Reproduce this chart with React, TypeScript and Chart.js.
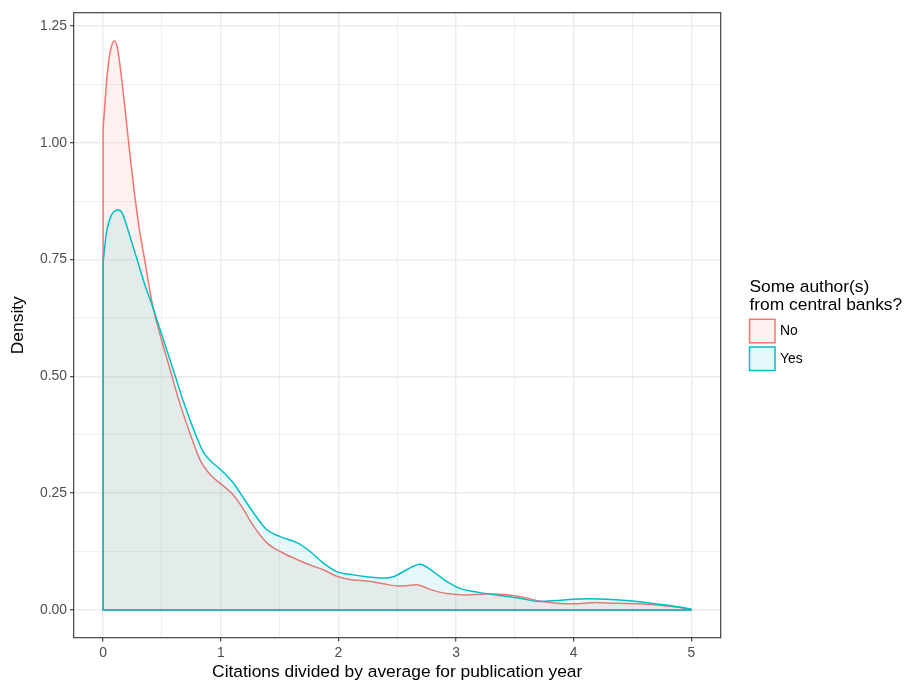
import React, { useEffect, useRef } from "react";
import { Chart, registerables } from "chart.js";

Chart.register(...registerables);

// ---------- data ----------
const SERIES_NAMES = ["No", "Yes"];
const LEGEND_TITLE = ["Some author(s)", "from central banks?"];
const X_TITLE = "Citations divided by average for publication year";
const Y_TITLE = "Density";

const X_TICKS = [0, 0.5, 1, 1.5, 2, 2.5, 3, 3.5, 4, 4.5, 5];
const X_MAJOR = [0, 1, 2, 3, 4, 5];
const X_LABELS = ["0", "1", "2", "3", "4", "5"];
const Y_TICKS = [0, 0.125, 0.25, 0.375, 0.5, 0.625, 0.75, 0.875, 1, 1.125, 1.25];
const Y_MAJOR = [0, 0.25, 0.5, 0.75, 1, 1.25];
const Y_LABELS = ["0.00", "0.25", "0.50", "0.75", "1.00", "1.25"];

const NO_X = [0, 0.028, 0.05, 0.075, 0.096, 0.12, 0.161, 0.217, 0.26, 0.308, 0.353, 0.421, 0.5, 0.586, 0.628, 0.747, 0.826, 0.92, 0.996, 1.095, 1.166, 1.278, 1.39, 1.505, 1.647, 1.76, 1.873, 1.986, 2.127, 2.24, 2.38, 2.52, 2.666, 2.778, 2.92, 3.09, 3.26, 3.4, 3.57, 3.71, 3.85, 3.995, 4.19, 4.36, 4.56, 4.79, 5.0];
const NO_Y = [1.03, 1.125, 1.18, 1.21, 1.218, 1.205, 1.13, 1.0, 0.905, 0.815, 0.75, 0.652, 0.575, 0.5, 0.462, 0.372, 0.32, 0.287, 0.271, 0.249, 0.226, 0.18, 0.144, 0.125, 0.108, 0.096, 0.086, 0.072, 0.064, 0.062, 0.056, 0.051, 0.054, 0.044, 0.035, 0.032, 0.034, 0.033, 0.027, 0.019, 0.0145, 0.013, 0.016, 0.014, 0.013, 0.0086, 0.002];

const YES_X = [0, 0.03, 0.07, 0.1, 0.133, 0.165, 0.2, 0.24, 0.289, 0.35, 0.421, 0.486, 0.614, 0.676, 0.784, 0.854, 0.93, 0.996, 1.109, 1.166, 1.278, 1.39, 1.505, 1.647, 1.76, 1.873, 1.986, 2.127, 2.24, 2.38, 2.467, 2.58, 2.694, 2.806, 2.92, 3.033, 3.203, 3.373, 3.54, 3.71, 3.85, 3.995, 4.137, 4.28, 4.5, 4.73, 4.9, 5.0];
const YES_Y = [0.745, 0.81, 0.845, 0.854, 0.856, 0.848, 0.823, 0.79, 0.75, 0.7, 0.649, 0.599, 0.5, 0.451, 0.377, 0.337, 0.315, 0.301, 0.271, 0.25, 0.208, 0.172, 0.157, 0.144, 0.125, 0.1, 0.082, 0.075, 0.071, 0.068, 0.071, 0.086, 0.098, 0.082, 0.061, 0.046, 0.037, 0.031, 0.025, 0.018, 0.02, 0.023, 0.024, 0.023, 0.019, 0.012, 0.006, 0.0015];

// ---------- styling ----------
const RED = "#F8766D";
const CYAN = "#00BFC4";
const RED_FILL = "rgba(248,118,109,0.1)";
const CYAN_FILL = "rgba(0,191,196,0.1)";
const FONT = "'Liberation Sans', Arial, Helvetica, sans-serif";

const toPts = (xs: number[], ys: number[]) => xs.map((x, i) => ({ x, y: ys[i] }));
const outline = (xs: number[], ys: number[]) => [
  { x: xs[0], y: ys[0] },
  { x: xs[0], y: 0 },
  { x: xs[xs.length - 1], y: 0 },
  { x: xs[xs.length - 1], y: ys[ys.length - 1] },
];

const decorPlugin = {
  id: "decor",
  afterDraw(chart: any) {
    const { ctx, chartArea } = chart;
    const { left, right, top, bottom } = chartArea;
    ctx.save();
    // panel border
    ctx.strokeStyle = "#333333";
    ctx.lineWidth = 1.1;
    ctx.strokeRect(left, top, right - left, bottom - top);

    // axis titles
    ctx.fillStyle = "#000000";
    ctx.font = `17.4px ${FONT}`;
    ctx.textAlign = "center";
    ctx.textBaseline = "middle";
    ctx.fillText(X_TITLE, (left + right) / 2, 672);
    ctx.save();
    ctx.translate(18.5, (top + bottom) / 2);
    ctx.rotate(-Math.PI / 2);
    ctx.fillText(Y_TITLE, 0, 0);
    ctx.restore();

    // legend
    const lx = 749.5;
    ctx.textAlign = "left";
    ctx.fillText(LEGEND_TITLE[0], lx, 287);
    ctx.fillText(LEGEND_TITLE[1], lx, 304.8);
    const keys = [
      { stroke: RED, fill: RED_FILL, y: 319.3 },
      { stroke: CYAN, fill: CYAN_FILL, y: 347 },
    ];
    ctx.font = `13.9px ${FONT}`;
    keys.forEach((k, i) => {
      ctx.fillStyle = "#ffffff";
      ctx.fillRect(lx, k.y, 25.5, 23.5);
      ctx.fillStyle = k.fill;
      ctx.fillRect(lx, k.y, 25.5, 23.5);
      ctx.strokeStyle = k.stroke;
      ctx.lineWidth = 1.5;
      ctx.strokeRect(lx, k.y, 25.5, 23.5);
      ctx.fillStyle = "#000000";
      ctx.fillText(SERIES_NAMES[i], 780, k.y + 12.3);
    });
    ctx.restore();
  },
};

export default function App() {
  const canvasRef = useRef<HTMLCanvasElement | null>(null);

  useEffect(() => {
    if (!canvasRef.current) return;
    const isMajorX = (v: number) => X_MAJOR.indexOf(v) >= 0;
    const isMajorY = (v: number) => Y_MAJOR.indexOf(v) >= 0;

    const chart = new Chart(canvasRef.current, {
      type: "line",
      data: {
        datasets: [
          {
            label: SERIES_NAMES[1],
            data: toPts(YES_X, YES_Y),
            borderColor: CYAN,
            backgroundColor: CYAN_FILL,
            borderWidth: 1.5,
            fill: "origin",
            pointRadius: 0,
            cubicInterpolationMode: "monotone",
            order: 1,
          },
          {
            label: SERIES_NAMES[1] + " outline",
            data: outline(YES_X, YES_Y),
            borderColor: CYAN,
            borderWidth: 1.5,
            fill: false,
            pointRadius: 0,
            tension: 0,
            order: 0,
          },
          {
            label: SERIES_NAMES[0],
            data: toPts(NO_X, NO_Y),
            borderColor: RED,
            backgroundColor: RED_FILL,
            borderWidth: 1.5,
            fill: "origin",
            pointRadius: 0,
            cubicInterpolationMode: "monotone",
            order: 3,
          },
          {
            label: SERIES_NAMES[0] + " outline",
            data: outline(NO_X, NO_Y),
            borderColor: RED,
            borderWidth: 1.5,
            fill: false,
            pointRadius: 0,
            tension: 0,
            order: 2,
          },
        ],
      },
      options: {
        animation: false,
        responsive: true,
        maintainAspectRatio: false,
        layout: { padding: { top: 12.7, right: 186.3, bottom: 0, left: 0 } },
        plugins: {
          legend: { display: false },
          tooltip: { enabled: false },
          title: { display: false },
        },
        scales: {
          x: {
            type: "linear",
            min: -0.25,
            max: 5.25,
            afterBuildTicks: (s: any) => {
              s.ticks = X_TICKS.map((v) => ({ value: v }));
            },
            afterFit: (s: any) => {
              s.height = 48.3;
            },
            ticks: {
              autoSkip: false,
              maxRotation: 0,
              padding: 3,
              color: "#4D4D4D",
              font: { size: 13.9, family: FONT },
              callback: (v: any) => {
                const i = X_MAJOR.indexOf(Number(v));
                return i >= 0 ? X_LABELS[i] : "";
              },
            },
            grid: {
              color: "#EBEBEB",
              lineWidth: (c: any) => (c.tick && isMajorX(c.tick.value) ? 1.4 : 0.8),
              drawTicks: true,
              tickLength: 3.7,
              tickWidth: 1.1,
              tickColor: (c: any) => (c.tick && isMajorX(c.tick.value) ? "#333333" : "rgba(0,0,0,0)"),
            },
            border: { display: false },
          },
          y: {
            type: "linear",
            min: -0.0595,
            max: 1.2785,
            afterBuildTicks: (s: any) => {
              s.ticks = Y_TICKS.map((v) => ({ value: v }));
            },
            afterFit: (s: any) => {
              s.width = 73.7;
            },
            ticks: {
              autoSkip: false,
              padding: 3,
              color: "#4D4D4D",
              font: { size: 13.9, family: FONT },
              callback: (v: any) => {
                const i = Y_MAJOR.indexOf(Number(v));
                return i >= 0 ? Y_LABELS[i] : "";
              },
            },
            grid: {
              color: "#EBEBEB",
              lineWidth: (c: any) => (c.tick && isMajorY(c.tick.value) ? 1.4 : 0.8),
              drawTicks: true,
              tickLength: 3.7,
              tickWidth: 1.1,
              tickColor: (c: any) => (c.tick && isMajorY(c.tick.value) ? "#333333" : "rgba(0,0,0,0)"),
            },
            border: { display: false },
          },
        },
      },
      plugins: [decorPlugin],
    } as any);

    return () => chart.destroy();
  }, []);

  return (
    <div style={{ position: "absolute", left: 0, top: 0, width: 907, height: 686, background: "#ffffff" }}>
      <canvas ref={canvasRef} />
    </div>
  );
}
